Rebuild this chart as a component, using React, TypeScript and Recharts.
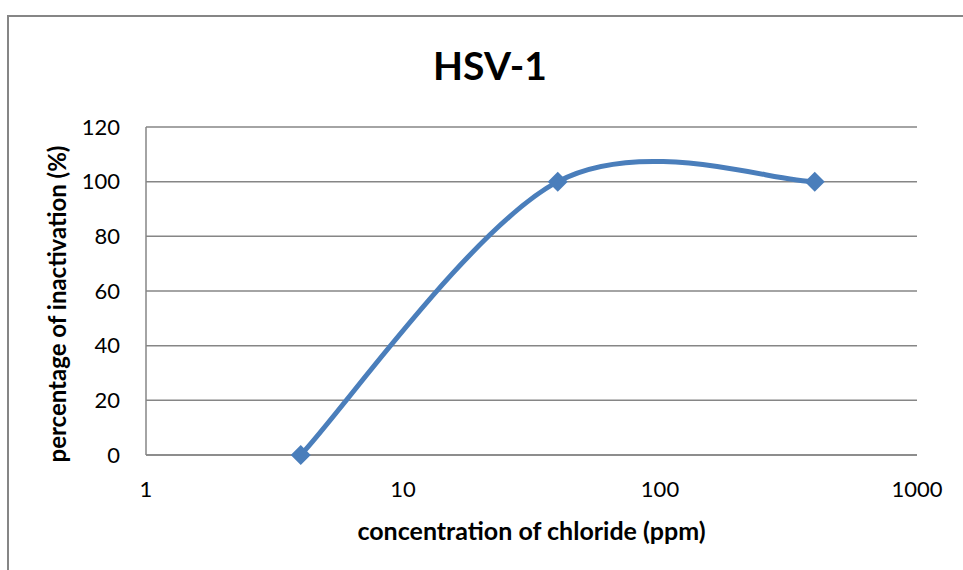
import { LineChart, Line, XAxis, YAxis, CartesianGrid } from "recharts";

const concentrations = [4, 40, 400];
const inactivation = [0, 100, 100];
const xTicks = [1, 10, 100, 1000];
const yTicks = [0, 20, 40, 60, 80, 100, 120];

const data = concentrations.map((x, i) => ({ x, y: inactivation[i] }));

const FONT = "Lato, 'Open Sans', sans-serif";

// Excel style smoothed line: bezier with control points from neighbours (tension 1/6)
const excelSmooth = (context: any) => {
  let pts: number[][] = [];
  return {
    areaStart() {},
    areaEnd() {},
    lineStart() {
      pts = [];
    },
    point(x: number, y: number) {
      pts.push([+x, +y]);
    },
    lineEnd() {
      if (!pts.length) return;
      context.moveTo(pts[0][0], pts[0][1]);
      for (let i = 0; i < pts.length - 1; i++) {
        const p0 = pts[i - 1] || pts[i];
        const p1 = pts[i];
        const p2 = pts[i + 1];
        const p3 = pts[i + 2] || pts[i + 1];
        context.bezierCurveTo(
          p1[0] + (p2[0] - p0[0]) / 6,
          p1[1] + (p2[1] - p0[1]) / 6,
          p2[0] - (p3[0] - p1[0]) / 6,
          p2[1] - (p3[1] - p1[1]) / 6,
          p2[0],
          p2[1]
        );
      }
    },
  };
};

const Diamond = (props: any) => {
  const { cx, cy } = props;
  if (cx == null || cy == null) return null;
  const r = 10;
  return (
    <path
      d={`M${cx},${cy - r}L${cx + r},${cy}L${cx},${cy + r}L${cx - r},${cy}Z`}
      fill="#4a7ebb"
    />
  );
};

export default function App() {
  return (
    <div
      style={{
        position: "absolute",
        left: 0,
        top: 0,
        width: 963,
        height: 570,
        overflow: "hidden",
        background: "#fff",
        fontFamily: FONT,
      }}
    >
      <div
        style={{
          position: "absolute",
          left: 7,
          top: 15,
          width: 1000,
          height: 600,
          border: "2px solid #868686",
        }}
      />
      <div
        style={{
          position: "absolute",
          left: 0,
          width: 980,
          top: 40,
          textAlign: "center",
          fontWeight: 700,
          fontSize: 39,
          lineHeight: "50px",
          color: "#000",
        }}
      >
        HSV-1
      </div>
      <div style={{ position: "absolute", left: 0, top: 0 }}>
        <LineChart
          width={963}
          height={570}
          data={data}
          margin={{ top: 127, right: 46, bottom: 25, left: 0 }}
        >
          <CartesianGrid vertical={false} stroke="#868686" strokeWidth={1.5} />
          <XAxis
            dataKey="x"
            type="number"
            scale="log"
            domain={[1, 1000]}
            ticks={xTicks}
            allowDataOverflow
            height={90}
            tickLine={false}
            tickMargin={20}
            axisLine={{ stroke: "#868686", strokeWidth: 1.5 }}
            tick={{ fill: "#000", fontSize: 22, fontFamily: FONT }}
            label={{
              value: "concentration of chloride (ppm)",
              position: "insideBottom",
              offset: 5,
              fill: "#000",
              fontSize: 25,
              fontWeight: 700,
              fontFamily: FONT,
            }}
          />
          <YAxis
            type="number"
            domain={[0, 120]}
            ticks={yTicks}
            width={146}
            tickLine={false}
            tickMargin={20}
            axisLine={{ stroke: "#868686", strokeWidth: 1.5 }}
            tick={{ fill: "#000", fontSize: 22, fontFamily: FONT }}
            label={{
              value: "percentage of inactivation (%)",
              angle: -90,
              position: "center",
              dx: -16,
              dy: 13,
              fill: "#000",
              fontSize: 24,
              fontWeight: 700,
              fontFamily: FONT,
            }}
          />
          <Line
            dataKey="y"
            type={excelSmooth as any}
            stroke="#4a7ebb"
            strokeWidth={5}
            dot={<Diamond />}
            activeDot={false}
            isAnimationActive={false}
          />
        </LineChart>
      </div>
    </div>
  );
}
